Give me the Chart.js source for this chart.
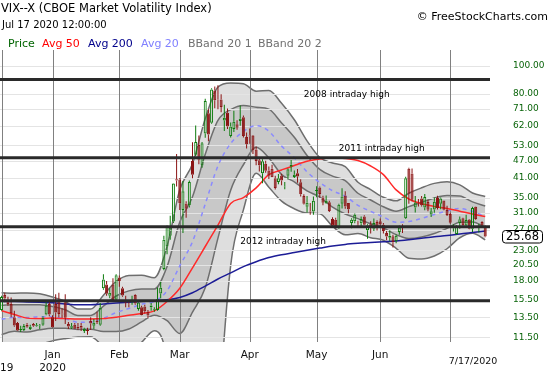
<!DOCTYPE html>
<html>
<head>
<meta charset="utf-8">
<script src="https://cdn.jsdelivr.net/npm/chart.js@4.4.0/dist/chart.umd.min.js"></script>
<style>
  body { margin: 0; background: #fff; }
  #wrap { position: relative; width: 550px; height: 375px; font-family: "DejaVu Sans", sans-serif; overflow: hidden; }
  #wrap canvas { position: absolute; left: 0; top: 0; }
  .t { position: absolute; white-space: nowrap; line-height: 1; }
  .lg { top: 37.5px; font-size: 11px; }
</style>
</head>
<body>
<div id="wrap">
  <canvas id="vixChart" width="550" height="375"></canvas>
  <div class="t" style="left:1px; top:3px; font-size:11.5px; color:#000;">VIX--X (CBOE Market Volatility Index)</div>
  <div class="t" style="left:2px; top:19.5px; font-size:10px; color:#000;">Jul 17 2020 12:00:00</div>
  <div class="t" style="right:2px; top:11px; font-size:11px; color:#000;">&copy; FreeStockCharts.com</div>
  <div class="t lg" style="left:8px; color:#006400;">Price</div>
  <div class="t lg" style="left:42px; color:#ff0000;">Avg 50</div>
  <div class="t lg" style="left:88px; color:#00008b;">Avg 200</div>
  <div class="t lg" style="left:141px; color:#8080ff;">Avg 20</div>
  <div class="t lg" style="left:188px; color:#707070;">BBand 20 1</div>
  <div class="t lg" style="left:258px; color:#707070;">BBand 20 2</div>
</div>
<script>
// trading days shown on the chart
const dates = [
  '2019-12-09','2019-12-10','2019-12-11','2019-12-12','2019-12-13','2019-12-16','2019-12-17','2019-12-18','2019-12-19','2019-12-20',
  '2019-12-23','2019-12-24','2019-12-26','2019-12-27','2019-12-30','2019-12-31',
  '2020-01-02','2020-01-03','2020-01-06','2020-01-07','2020-01-08','2020-01-09','2020-01-10','2020-01-13','2020-01-14','2020-01-15',
  '2020-01-16','2020-01-17','2020-01-21','2020-01-22','2020-01-23','2020-01-24','2020-01-27','2020-01-28','2020-01-29','2020-01-30','2020-01-31',
  '2020-02-03','2020-02-04','2020-02-05','2020-02-06','2020-02-07','2020-02-10','2020-02-11','2020-02-12','2020-02-13','2020-02-14',
  '2020-02-18','2020-02-19','2020-02-20','2020-02-21','2020-02-24','2020-02-25','2020-02-26','2020-02-27','2020-02-28',
  '2020-03-02','2020-03-03','2020-03-04','2020-03-05','2020-03-06','2020-03-09','2020-03-10','2020-03-11','2020-03-12','2020-03-13',
  '2020-03-16','2020-03-17','2020-03-18','2020-03-19','2020-03-20','2020-03-23','2020-03-24','2020-03-25','2020-03-26','2020-03-27',
  '2020-03-30','2020-03-31',
  '2020-04-01','2020-04-02','2020-04-03','2020-04-06','2020-04-07','2020-04-08','2020-04-09','2020-04-13','2020-04-14','2020-04-15',
  '2020-04-16','2020-04-17','2020-04-20','2020-04-21','2020-04-22','2020-04-23','2020-04-24','2020-04-27','2020-04-28','2020-04-29','2020-04-30',
  '2020-05-01','2020-05-04','2020-05-05','2020-05-06','2020-05-07','2020-05-08','2020-05-11','2020-05-12','2020-05-13','2020-05-14',
  '2020-05-15','2020-05-18','2020-05-19','2020-05-20','2020-05-21','2020-05-22','2020-05-26','2020-05-27','2020-05-28','2020-05-29',
  '2020-06-01','2020-06-02','2020-06-03','2020-06-04','2020-06-05','2020-06-08','2020-06-09','2020-06-10','2020-06-11','2020-06-12',
  '2020-06-15','2020-06-16','2020-06-17','2020-06-18','2020-06-19','2020-06-22','2020-06-23','2020-06-24','2020-06-25','2020-06-26',
  '2020-06-29','2020-06-30',
  '2020-07-01','2020-07-02','2020-07-06','2020-07-07','2020-07-08','2020-07-09','2020-07-10','2020-07-13','2020-07-14','2020-07-15',
  '2020-07-16','2020-07-17'
];

const open = [
  14.3,16.1,15.5,15.0,13.5,12.9,12.2,12.2,12.7,12.3,12.8,12.55,12.6,12.7,13.8,15.0,
  13.5,15.0,15.5,13.9,15.2,12.8,12.4,12.7,12.5,12.6,12.1,12.2,13.1,12.6,13.1,12.7,17.0,17.5,16.0,17.5,15.5,
  18.5,17.0,15.5,15.0,15.3,16.1,14.4,14.6,14.7,14.1,14.6,14.3,14.3,16.3,19.8,23.7,25.8,28.9,40.5,
  40.4,31.7,33.4,32.9,46.8,49.2,53.2,45.2,58.3,68.5,63.5,82.0,76.5,76.4,64.6,68.7,57.1,60.4,62.7,64.4,66.3,56.7,
  57.4,57.4,51.3,47.1,42.5,45.8,43.4,44.0,40.8,39.6,41.7,38.1,41.6,44.7,41.2,42.5,39.5,35.4,32.5,31.4,31.3,
  36.9,37.9,35.0,33.4,33.7,29.5,29.3,27.7,33.3,35.6,33.5,28.6,29.0,28.2,28.5,30.1,27.0,28.3,27.3,28.8,
  29.0,28.2,26.4,25.4,25.7,24.7,26.6,27.8,29.7,44.0,42.4,32.3,33.6,34.7,32.3,33.8,30.6,31.8,34.9,33.3,34.2,31.7,
  30.7,27.4,26.2,28.6,29.7,28.0,29.4,27.3,32.5,27.5,28.8,27.9
];
const high = [
  16.0,16.4,15.9,15.8,14.2,13.0,12.6,12.8,12.9,12.7,12.9,12.9,12.8,13.6,15.2,15.3,
  13.7,16.2,16.4,14.5,16.2,13.0,12.9,12.9,12.9,12.9,12.4,12.4,13.5,13.3,14.1,15.1,19.0,18.0,17.0,18.4,19.0,
  18.8,17.2,16.0,15.3,16.0,16.2,15.4,14.8,14.9,14.3,15.1,14.6,17.1,17.9,25.8,28.0,30.3,39.2,49.5,
  40.9,39.9,34.0,40.1,54.4,62.1,57.4,54.5,76.8,70.9,83.6,84.8,85.5,79.6,73.2,71.1,63.6,69.8,64.8,72.8,67.3,58.7,
  60.6,57.6,52.5,48.3,47.5,46.9,44.8,45.4,41.6,42.2,42.3,39.6,44.1,47.2,43.4,43.9,40.5,35.9,35.4,33.5,35.3,
  38.3,38.2,35.5,35.6,34.1,29.9,29.8,33.3,37.7,36.8,33.5,29.7,30.8,29.1,30.1,30.4,28.3,29.0,29.6,29.2,
  29.6,28.6,26.8,27.0,26.0,26.1,28.0,28.3,41.3,44.4,44.1,35.4,34.6,35.4,36.0,34.4,32.2,35.0,35.5,35.0,34.2,32.8,
  31.0,28.3,28.1,30.1,29.8,30.5,29.5,32.5,32.6,28.4,29.0,28.0
];
const low = [
  14.2,15.2,14.8,13.5,12.5,12.1,12.0,12.1,12.4,12.2,12.5,12.5,12.3,12.6,13.7,13.6,
  12.4,13.1,13.5,13.4,12.8,12.3,12.3,12.3,12.2,12.1,11.9,11.75,12.2,12.3,12.8,12.6,16.8,16.0,15.7,15.4,15.3,
  17.2,15.9,14.6,14.6,14.9,14.9,14.2,13.7,13.9,13.4,14.2,14.1,14.2,15.7,19.6,22.3,25.0,28.6,38.2,
  31.7,26.4,29.8,32.3,40.8,48.7,45.6,44.4,56.3,54.8,63.0,71.2,70.7,69.0,59.4,60.4,56.5,59.0,60.0,62.0,56.4,51.7,
  53.7,49.5,45.3,43.1,39.2,42.6,40.6,41.1,37.3,38.9,38.6,37.4,40.5,43.0,40.9,39.4,35.3,33.1,31.1,30.5,30.5,
  35.1,35.0,32.9,33.3,31.2,27.6,27.4,27.3,32.1,32.0,30.9,27.4,28.5,27.7,27.9,28.1,25.2,26.3,26.8,26.9,
  27.6,26.3,24.9,24.7,23.5,24.3,26.0,26.4,29.5,33.3,34.0,31.1,32.6,32.6,31.6,31.4,30.0,31.0,31.8,31.9,31.6,30.2,
  28.4,26.7,26.1,27.3,27.8,27.6,27.2,26.6,29.3,26.5,27.6,25.5
];
const close = [
  15.86,15.68,14.99,13.94,12.63,12.14,12.29,12.58,12.50,12.51,12.61,12.67,12.65,13.43,14.82,13.78,
  12.47,14.02,13.85,13.79,13.45,12.54,12.56,12.32,12.39,12.42,12.32,12.10,12.85,12.91,12.98,14.56,18.23,16.28,16.39,15.49,18.84,
  17.97,16.05,15.15,14.96,15.47,15.04,15.18,13.74,14.15,13.68,14.83,14.38,15.56,17.08,25.03,27.85,27.56,39.16,40.11,
  33.42,36.82,31.99,39.62,41.94,54.46,47.30,53.90,75.47,57.83,82.69,75.91,76.45,72.00,66.04,61.59,61.67,63.95,61.00,65.54,57.08,53.54,
  57.06,50.91,46.80,45.24,46.70,43.35,41.67,41.17,37.76,40.84,40.11,38.15,43.83,45.41,41.98,41.38,35.93,33.29,33.57,31.23,34.15,
  37.19,35.97,33.61,34.12,31.44,27.98,27.57,33.04,35.28,32.61,31.89,29.30,30.53,27.99,29.53,28.16,28.01,27.62,28.59,27.51,
  28.23,26.84,25.66,25.81,24.52,25.81,27.57,27.57,40.79,36.09,34.40,33.67,33.47,32.94,35.12,31.77,31.37,33.84,32.22,34.73,31.78,30.43,
  28.62,27.68,27.94,29.43,28.08,29.26,27.29,32.19,29.52,27.76,28.00,25.68
];

// indicator lines at these days
const lineDates = [
  '2019-12-09','2019-12-13','2019-12-19','2019-12-26','2020-01-02','2020-01-08','2020-01-14','2020-01-21','2020-01-27','2020-01-31',
  '2020-02-06','2020-02-12','2020-02-19','2020-02-25','2020-03-02','2020-03-06','2020-03-12','2020-03-18','2020-03-24','2020-03-30',
  '2020-04-03','2020-04-09','2020-04-16','2020-04-22','2020-04-28','2020-05-04','2020-05-08','2020-05-14','2020-05-20','2020-05-27',
  '2020-06-02','2020-06-08','2020-06-12','2020-06-18','2020-06-24','2020-06-30','2020-07-07','2020-07-13','2020-07-17'
];
const avg20 = [13.3,13.49,13.46,13.56,13.52,13.34,12.97,12.98,13.39,14.01,14.47,14.95,15.31,16.66,20.32,24.63,33.22,45.01,53.8,59.16,
  62.06,59.35,52.7,48.1,42.93,39.45,36.96,35.39,32.9,31.36,29.99,28.73,28.9,29.64,30.58,31.48,32.07,31.31,30.14];
const bbUpper2 = [16.4,16.35,16.38,16.26,15.86,15.3,14.41,14.4,16.09,17.95,18.83,18.85,18.49,23.72,37.24,45.79,65.52,84.37,87.2,86.6,
  81.66,82.11,74.08,65.0,54.93,48.15,46.06,44.75,39.54,37.3,35.07,34.09,36.22,37.82,39.18,39.68,38.73,36.29,35.28];
const bbUpper1 = [14.85,14.92,14.92,14.91,14.69,14.32,13.69,13.69,14.74,15.98,16.65,16.9,16.9,20.19,28.78,35.21,49.37,64.69,70.5,72.88,
  71.86,70.73,63.39,56.55,48.93,43.8,41.51,40.07,36.22,34.33,32.53,31.41,32.56,33.73,34.88,35.58,35.4,33.8,32.71];
const bbLower1 = [11.75,12.06,12.0,12.21,12.35,12.36,12.25,12.27,12.04,12.04,12.29,13.0,13.72,13.13,11.86,14.05,17.07,25.33,37.1,45.44,
  52.26,47.97,42.01,39.65,36.93,35.1,32.41,30.71,29.58,28.39,27.45,26.05,25.24,25.55,26.28,27.38,28.74,28.82,27.57];
const bbLower2 = [10.2,10.63,10.54,10.86,11.18,11.38,11.53,11.56,10.69,10.07,10.11,11.05,12.13,9.6,3.4,3.47,0.92,5.65,20.4,31.72,
  42.46,38.0,34.0,32.0,30.93,30.75,27.86,26.03,26.26,25.42,24.91,23.37,21.58,21.46,21.98,23.28,25.41,26.33,25.0];
const avg50 = [14.2,13.8,13.4,13.35,13.4,13.35,13.3,13.3,13.35,13.5,13.7,13.9,14.2,15.3,17.0,20.0,23.7,28.1,33.4,35.0,
  37.8,42.0,43.6,45.2,46.7,47.6,48.0,47.8,47.0,45.0,42.0,37.2,34.6,33.3,32.6,32.1,31.4,30.7,30.1];
const avg200 = [15.3,15.3,15.25,15.2,15.15,15.0,14.9,14.9,15.0,15.1,15.2,15.3,15.4,15.5,15.8,16.4,17.3,18.3,19.2,20.2,
  21.0,21.7,22.2,22.6,23.0,23.4,23.8,24.1,24.3,24.45,24.6,24.75,25.0,25.3,25.6,25.85,26.2,26.5,26.8];

// axes
const yTicks = [100, 80, 71, 62, 53, 47, 41, 35, 31, 27, 23, 20.5, 18, 15.5, 13.5, 11.5];
const monthDates = ['2019-12-09','2020-01-02','2020-02-03','2020-03-02','2020-04-01','2020-05-01','2020-06-01','2020-07-01'];
const monthNames = ['', 'Jan', 'Feb', 'Mar', 'Apr', 'May', 'Jun', ''];
const yearNames = ['19', '2020', '', '', '', '', '', ''];
const dateLabel = '7/17/2020';

// horizontal reference levels
const levels = [89.53, 48.0, 27.73, 15.4];
const levelNames = ['2008 intraday high', '2011 intraday high', '2012 intraday high', ''];
const levelNameAt = ['2020-04-27', '2020-05-12', '2020-03-27', ''];
const levelNameDy = [15, -9, 14.5, 0];

const UP = '#0b7a0b';
const DOWN = '#8b1414';
const isUp = close.map((c, i) => c >= open[i]);

function linePoints(values) {
  return lineDates.map((d, i) => ({ x: d, y: values[i] }));
}

const overlay = {
  id: 'overlay',
  beforeDatasetDraw(chart, args) {
    // grid goes over the band fills but under the averages and candles
    if (args.index !== 4) return;
    const { ctx, chartArea: a, scales: { x, y } } = chart;
    ctx.save();
    ctx.lineWidth = 1;
    ctx.strokeStyle = '#e4e4e4';
    yTicks.forEach(v => {
      const py = Math.round(y.getPixelForValue(v)) + 0.5;
      ctx.beginPath();
      ctx.moveTo(a.left, py);
      ctx.lineTo(a.right, py);
      ctx.stroke();
    });
    ctx.strokeStyle = '#808080';
    monthDates.forEach(d => {
      const px = Math.round(x.getPixelForValue(dates.indexOf(d))) + 0.5;
      ctx.beginPath();
      ctx.moveTo(px, a.top);
      ctx.lineTo(px, a.bottom);
      ctx.stroke();
    });
    ctx.restore();
  },
  afterDatasetsDraw(chart) {
    const { ctx, chartArea: a, scales: { x, y } } = chart;
    ctx.save();
    ctx.strokeStyle = '#2a2a2a';
    ctx.lineWidth = 3;
    levels.forEach((v, i) => {
      const py = y.getPixelForValue(v);
      ctx.beginPath();
      ctx.moveTo(a.left, py);
      ctx.lineTo(a.right, py);
      ctx.stroke();
      if (levelNames[i]) {
        ctx.fillStyle = '#000';
        ctx.font = '9px "DejaVu Sans"';
        ctx.textAlign = 'left';
        ctx.textBaseline = 'middle';
        ctx.fillText(levelNames[i], x.getPixelForValue(dates.indexOf(levelNameAt[i])), py + levelNameDy[i]);
      }
    });
    ctx.restore();
  },
  afterDraw(chart) {
    const { ctx, chartArea: a, scales: { x, y } } = chart;
    ctx.save();
    ctx.fillStyle = '#111';
    ctx.textBaseline = 'middle';
    ctx.font = '10.5px "DejaVu Sans"';
    monthDates.forEach((d, i) => {
      const px = x.getPixelForValue(dates.indexOf(d));
      if (monthNames[i]) {
        ctx.textAlign = 'center';
        ctx.fillText(monthNames[i], px, 355);
      }
      if (yearNames[i]) {
        ctx.textAlign = px < 10 ? 'left' : 'center';
        ctx.fillText(yearNames[i], px < 10 ? 0 : px, 368.5);
      }
    });
    ctx.font = '9.5px "DejaVu Sans"';
    ctx.textAlign = 'center';
    ctx.fillText(dateLabel, 473, 362);

    // last price tag on the axis
    const last = close[close.length - 1];
    const py = y.getPixelForValue(last);
    const bx = 502.5, bw = 40, bh = 12.5, by = Math.round(py - bh / 2) + 0.5;
    ctx.fillStyle = '#fff';
    ctx.strokeStyle = '#000';
    ctx.lineWidth = 1;
    ctx.beginPath();
    ctx.roundRect(bx, by, bw, bh, 3);
    ctx.fill();
    ctx.stroke();
    ctx.fillStyle = '#000';
    ctx.font = '11.5px "DejaVu Sans"';
    ctx.fillText(last.toFixed(2), bx + bw / 2, py + 0.5);
    ctx.restore();
  }
};

Chart.defaults.font.family = '"DejaVu Sans", sans-serif';

const bandLine = { type: 'line', borderColor: '#6e6e6e', borderWidth: 1.5, pointRadius: 0, cubicInterpolationMode: 'monotone' };

new Chart(document.getElementById('vixChart'), {
  type: 'bar',
  data: {
    labels: dates.concat(['']),
    datasets: [
      Object.assign({}, bandLine, { label: 'BBand 20 2 upper', data: linePoints(bbUpper2), fill: 1, backgroundColor: '#dedede', order: 9 }),
      Object.assign({}, bandLine, { label: 'BBand 20 2 lower', data: linePoints(bbLower2), fill: false, order: 8 }),
      Object.assign({}, bandLine, { label: 'BBand 20 1 upper', data: linePoints(bbUpper1), fill: 3, backgroundColor: '#c8c8c8', order: 7 }),
      Object.assign({}, bandLine, { label: 'BBand 20 1 lower', data: linePoints(bbLower1), fill: false, order: 6 }),
      { type: 'line', label: 'Avg 20', data: linePoints(avg20), borderColor: '#8a8aff', borderWidth: 1.5, borderDash: [4, 4],
        pointRadius: 0, fill: false, cubicInterpolationMode: 'monotone', order: 5 },
      { type: 'line', label: 'Avg 200', data: linePoints(avg200), borderColor: '#1c1c96', borderWidth: 1.5,
        pointRadius: 0, fill: false, cubicInterpolationMode: 'monotone', order: 4 },
      { type: 'line', label: 'Avg 50', data: linePoints(avg50), borderColor: '#ff2a2a', borderWidth: 1.5,
        pointRadius: 0, fill: false, cubicInterpolationMode: 'monotone', order: 3 },
      { label: 'upper wick', data: close.map((c, i) => [Math.max(open[i], c), high[i]]),
        backgroundColor: isUp.map(u => u ? UP : DOWN), barThickness: 1, grouped: false, inflateAmount: 0, order: 2 },
      { label: 'lower wick', data: close.map((c, i) => [low[i], Math.min(open[i], c)]),
        backgroundColor: isUp.map(u => u ? UP : DOWN), barThickness: 1, grouped: false, inflateAmount: 0, order: 2 },
      { label: 'Price', data: close.map((c, i) => [open[i], c]),
        backgroundColor: isUp.map(u => u ? 'rgba(0,0,0,0)' : DOWN),
        borderColor: isUp.map(u => u ? UP : DOWN), borderWidth: 1, borderSkipped: false,
        barThickness: 3, grouped: false, inflateAmount: 0, order: 1 }
    ]
  },
  options: {
    responsive: false,
    animation: false,
    devicePixelRatio: 1,
    layout: { padding: { top: 50, left: 0, right: 0, bottom: 0 } },
    plugins: { legend: { display: false }, tooltip: { enabled: false } },
    scales: {
      x: {
        type: 'category',
        offset: true,
        grid: { display: false, drawTicks: false },
        border: { display: false },
        ticks: { display: false },
        afterFit(s) { s.height = 33; }
      },
      y: {
        type: 'logarithmic',
        position: 'right',
        min: 11.08,
        max: 113.3,
        grid: { display: false, drawTicks: false },
        border: { display: false },
        afterBuildTicks(s) { s.ticks = yTicks.map(v => ({ value: v })); },
        afterFit(s) { s.width = 60; },
        ticks: {
          autoSkip: false,
          padding: 23,
          color: '#0a640a',
          font: { size: 9 },
          callback: v => Number(v).toFixed(2)
        }
      }
    }
  },
  plugins: [overlay]
});
</script>
</body>
</html>
